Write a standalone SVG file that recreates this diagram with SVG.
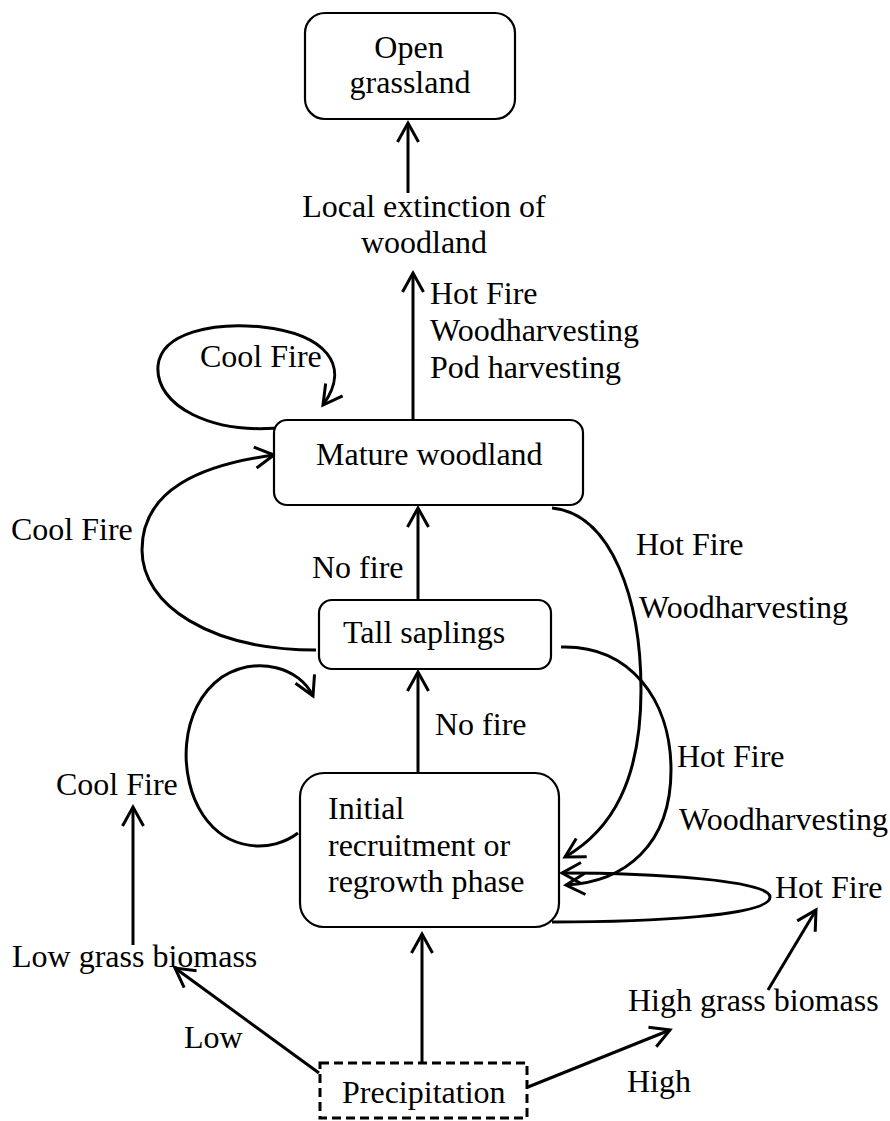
<svg xmlns="http://www.w3.org/2000/svg" width="890" height="1121" viewBox="0 0 890 1121" font-family="'Liberation Serif', 'Times New Roman', Times, serif" font-size="32">
<style>
text{font-family:'Liberation Serif','Times New Roman',Times,serif;font-size:32px;fill:#000}
.box{fill:#fff;stroke:#000;stroke-width:2.2}
.dash{fill:#fff;stroke:#000;stroke-width:3;stroke-dasharray:9 5}
.c{fill:none;stroke:#000;stroke-width:3}
.m{text-anchor:middle}
</style>
<defs>
<marker id="ah" viewBox="-22 -13 26 26" refX="0" refY="0" markerWidth="26" markerHeight="26" markerUnits="userSpaceOnUse" orient="auto">
<path d="M -19,-10.5 L 0,0 L -19,10.5" fill="none" stroke="#000" stroke-width="3" stroke-linejoin="miter"/>
</marker>
</defs>
<rect width="890" height="1121" fill="#fff"/>
<g id="connectors">
<path class="c" d="M 408,193 L 408,123" marker-end="url(#ah)"/>
<path class="c" d="M 413,420 L 413,273" marker-end="url(#ah)"/>
<path class="c" d="M 418,600 L 418,508" marker-end="url(#ah)"/>
<path class="c" d="M 418,773 L 418,672" marker-end="url(#ah)"/>
<path class="c" d="M 422,1063 L 422,934" marker-end="url(#ah)"/>
<path class="c" d="M 133,945 L 133,807" marker-end="url(#ah)"/>
<path class="c" d="M 319,1073 L 175,968" marker-end="url(#ah)"/>
<path class="c" d="M 528,1087 L 670,1030" marker-end="url(#ah)"/>
<path class="c" d="M 768,990 L 816,910" marker-end="url(#ah)"/>
<path class="c" d="M 288,427 C 210,436 155,405 158,366 C 161,332 215,322 262,327 C 325,334 352,365 323,405" marker-end="url(#ah)"/>
<path class="c" d="M 316,650 C 210,650 142,605 142,550 C 142,490 200,465 274,455" marker-end="url(#ah)"/>
<path class="c" d="M 298,833 C 272,853 228,852 203,815 C 178,778 178,708 222,677 C 258,655 300,668 313,696" marker-end="url(#ah)"/>
<path class="c" d="M 552,508 C 612,514 641,600 641,690 C 641,780 612,830 565,857" marker-end="url(#ah)"/>
<path class="c" d="M 561,647 C 630,645 671,700 671,770 C 671,845 625,882 566,885" marker-end="url(#ah)"/>
<path class="c" d="M 552,922 C 650,922 770,916 770,897 C 770,880 650,873 562,873" marker-end="url(#ah)"/>
</g>
<g id="open-grassland">
<rect class="box" x="305" y="13" width="210" height="106" rx="20"/>
<text class="m" x="409" y="58">Open</text>
<text class="m" x="410" y="93">grassland</text>
</g>
<g id="local-extinction">
<text class="m" x="424" y="217">Local extinction of</text>
<text class="m" x="424" y="253">woodland</text>
</g>
<g id="label-hot-top">
<text x="430" y="304">Hot Fire</text>
<text x="430" y="341">Woodharvesting</text>
<text x="430" y="378">Pod harvesting</text>
</g>
<g id="mature-woodland">
<rect class="box" x="274" y="420" width="309" height="85" rx="13"/>
<text x="316" y="465">Mature woodland</text>
</g>
<g id="tall-saplings">
<rect class="box" x="319" y="600" width="232" height="69" rx="13"/>
<text x="343" y="643">Tall saplings</text>
</g>
<g id="initial-recruitment">
<rect class="box" x="300" y="773" width="259" height="154" rx="24"/>
<text x="328" y="819">Initial</text>
<text x="328" y="856">recruitment or</text>
<text x="328" y="892">regrowth phase</text>
</g>
<g id="precipitation">
<rect class="dash" x="320" y="1063" width="207" height="55"/>
<text x="342" y="1103">Precipitation</text>
</g>
<g id="labels">
<text x="200" y="367">Cool Fire</text>
<text x="11" y="540">Cool Fire</text>
<text x="312" y="578">No fire</text>
<text x="435" y="735">No fire</text>
<text x="56" y="795">Cool Fire</text>
<text x="12" y="967">Low grass biomass</text>
<text x="184" y="1048">Low</text>
<text x="628" y="1011">High grass biomass</text>
<text x="627" y="1092">High</text>
<text x="775" y="898">Hot Fire</text>
<text x="636" y="555">Hot Fire</text>
<text x="639" y="618">Woodharvesting</text>
<text x="677" y="767">Hot Fire</text>
<text x="679" y="830">Woodharvesting</text>
</g>
</svg>
